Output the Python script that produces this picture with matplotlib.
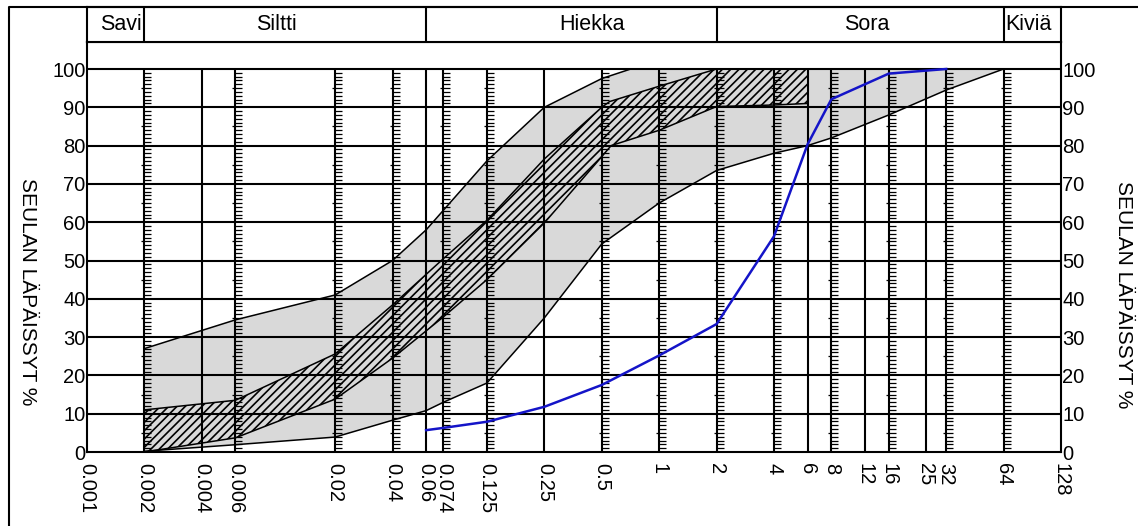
import numpy as np
import matplotlib
matplotlib.use('Agg')
import matplotlib.pyplot as plt
from matplotlib.lines import Line2D

plt.rcParams['font.family'] = ['Liberation Sans', 'DejaVu Sans']
plt.rcParams['hatch.linewidth'] = 1.2

# sieve sizes (mm) drawn as vertical lines; True = line carries a % ruler
grid_sizes = [0.002, 0.004, 0.006, 0.02, 0.04, 0.06, 0.074, 0.125, 0.25, 0.5,
              1, 2, 4, 6, 8, 12, 16, 25, 32, 64]
has_ruler = [True, False, True, True, True, False, True, True, False, True,
             True, True, True, False, True, False, True, False, True, True]
tick_sizes = [0.001] + grid_sizes + [128]
tick_labels = ['0.001', '0.002', '0.004', '0.006', '0.02', '0.04', '0.06', '0.074',
               '0.125', '0.25', '0.5', '1', '2', '4', '6', '8', '12', '16', '25',
               '32', '64', '128']

# soil classes in the header band
class_names = ['Savi', 'Siltti', 'Hiekka', 'Sora', 'Kiviä']
class_limits = [0.002, 0.06, 2, 64]

# outer (grey) grading envelope
outer_up_x = [0.002, 0.006, 0.02, 0.04, 0.06, 0.125, 0.25, 0.5, 0.71, 64]
outer_up_y = [27, 34.5, 41, 50, 58, 76, 90, 97.5, 100, 100]
outer_lo_x = [0.002, 0.006, 0.02, 0.04, 0.06, 0.074, 0.125, 0.25, 0.5, 1, 2, 4, 6, 8, 16, 32, 64]
outer_lo_y = [0.2, 1.9, 3.9, 8.3, 10.8, 13, 18, 35, 54.3, 65, 73.5, 78, 80, 82, 88, 94.5, 100]

# inner (hatched) grading envelope
hatch_up_x = [0.002, 0.006, 0.02, 0.04, 0.074, 0.125, 0.25, 0.5, 0.55, 1, 2, 6]
hatch_up_y = [11, 13.5, 25.6, 38.4, 50.5, 60.5, 76.5, 90, 91.5, 95.5, 100, 100]
hatch_lo_x = [0.002, 0.006, 0.02, 0.04, 0.074, 0.125, 0.25, 0.5, 0.56, 1, 2, 4, 6]
hatch_lo_y = [0, 3.7, 13.8, 24.5, 35.3, 45, 59.8, 77.1, 80, 84, 90.2, 90.6, 91]

# measured grading curve
sample_x = [0.06, 0.074, 0.125, 0.25, 0.5, 1, 2, 4, 6, 8, 16, 32]
sample_y = [5.7, 6.3, 7.9, 11.8, 17.5, 25.2, 33.4, 56.3, 80.3, 92.1, 98.8, 100]

W, H = 1138, 526
fig = plt.figure(figsize=(W / 100, H / 100), dpi=100)
ax = fig.add_axes([87 / W, (H - 452) / H, (1061 - 87) / W, (452 - 42) / H])
ax.set_xscale('log')
ax.set_xlim(0.001, 128)
ax.set_ylim(0, 100 * 410 / 383)

# envelopes
ax.fill(np.r_[outer_up_x, outer_lo_x[::-1]], np.r_[outer_up_y, outer_lo_y[::-1]],
        facecolor='#d9d9d9', edgecolor='none', zorder=1)
ax.fill(np.r_[hatch_up_x, hatch_lo_x[::-1]], np.r_[hatch_up_y, hatch_lo_y[::-1]],
        facecolor='#d9d9d9', edgecolor='k', hatch='////', linewidth=0, zorder=1.5)

# grid
for y in range(10, 101, 10):
    ax.axhline(y, color='k', lw=1.5, zorder=2)
ax.vlines(grid_sizes, 0, 100, color='k', lw=1.5, zorder=2)

# rulers on selected sieve lines
ruler_x = [s for s, r in zip(grid_sizes, has_ruler) if r]
small = [i for i in range(1, 100) if i % 10 != 0]
half = list(range(5, 100, 10))
for s in ruler_x:
    ax.plot([s] * len(small), small, ls='none', marker=1, ms=4.8, mew=0.9, color='k', zorder=2)
    ax.plot([s] * len(half), half, ls='none', marker=0, ms=2.5, mew=0.9, color='k', zorder=2)

# envelope borders
for xs, ys in [(outer_up_x, outer_up_y), (outer_lo_x, outer_lo_y),
               (hatch_up_x, hatch_up_y), (hatch_lo_x, hatch_lo_y)]:
    ax.plot(xs, ys, color='k', lw=1.1, zorder=3)

ax.plot(sample_x, sample_y, color='#1414c8', lw=1.8, zorder=4)

ax.set_xticks(tick_sizes, tick_labels)
ax.minorticks_off()
ax.tick_params(axis='x', length=0, pad=8, labelsize=14.5, labelrotation=-90)
ax.set_yticks(range(0, 101, 10))
ax.tick_params(axis='y', length=0, pad=1, labelsize=14.5, left=True, right=True,
               labelleft=True, labelright=True)
for sp in ax.spines.values():
    sp.set_linewidth(1.5)

# header band with soil classes
bx = fig.add_axes([87 / W, (H - 42) / H, (1061 - 87) / W, 35 / H])
bx.set_xscale('log')
bx.set_xlim(0.001, 128)
bx.set_ylim(0, 1)
bx.set_xticks([])
bx.set_yticks([])
bx.minorticks_off()
bx.vlines(class_limits, 0, 1, color='k', lw=1.5)
for sp in bx.spines.values():
    sp.set_linewidth(1.5)
class_centers = [0.0015, 0.0099, 0.445, 12.3, 86]
for name, cx in zip(class_names, class_centers):
    bx.text(cx, 0.5, name, ha='center', va='center', fontsize=15.5)

# axis titles on both sides
fig.text(27 / W, 1 - 292 / H, 'SEULAN LÄPÄISSYT %', rotation=-90,
         ha='center', va='center', fontsize=15)
fig.text(1124 / W, 1 - 295 / H, 'SEULAN LÄPÄISSYT %', rotation=-90,
         ha='center', va='center', fontsize=15)

# outer drawing frame
fig.add_artist(Line2D([9 / W, 9 / W, 1], [0, (H - 7) / H, (H - 7) / H],
                      transform=fig.transFigure, color='k', lw=1.5))

fig.savefig('out.png', dpi=100)
